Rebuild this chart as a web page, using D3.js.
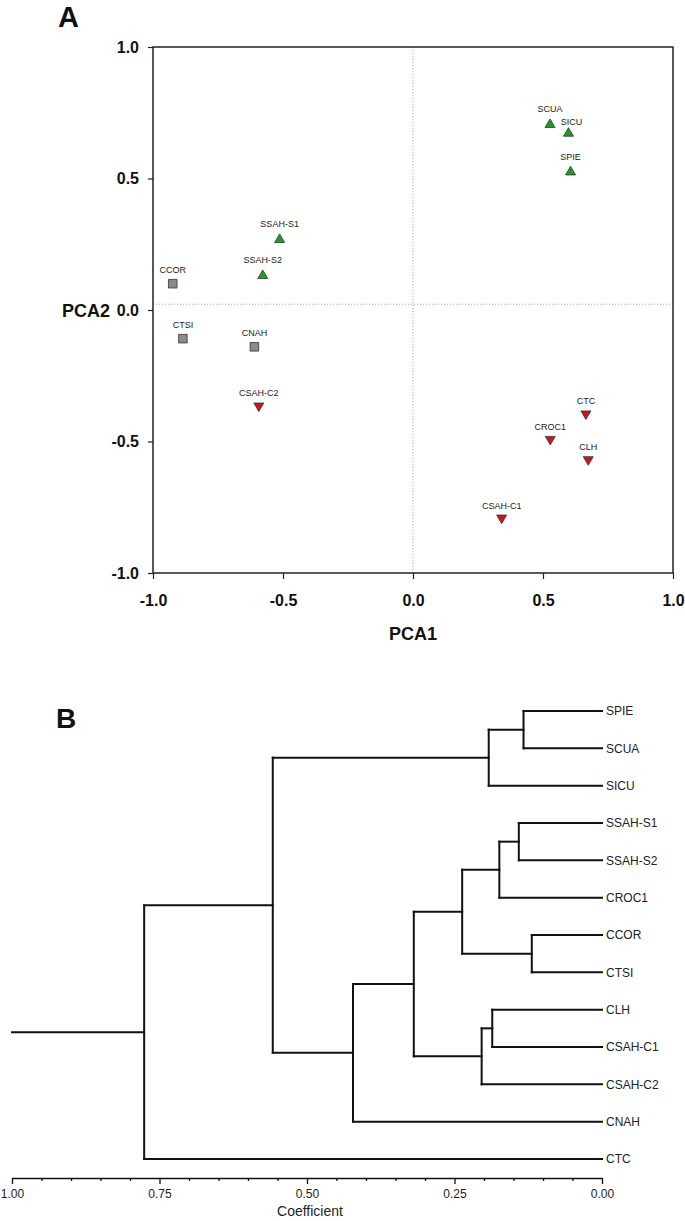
<!DOCTYPE html>
<html>
<head>
<meta charset="utf-8">
<script src="https://cdn.jsdelivr.net/npm/d3@7"></script>
<style>
  html, body { margin: 0; padding: 0; background: #fff; }
  svg { display: block; font-family: "Liberation Sans", Arial, sans-serif; }
</style>
</head>
<body>
<svg id="chart" width="685" height="1221"></svg>
<script>
// ---------------- Panel A data (PCA) ----------------
const pcaNames = ["SCUA", "SICU", "SPIE", "SSAH-S1", "SSAH-S2", "CCOR", "CTSI", "CNAH", "CSAH-C2", "CTC", "CROC1", "CLH", "CSAH-C1"];
const pca1 = [0.527, 0.598, 0.606, -0.513, -0.578, -0.924, -0.885, -0.610, -0.593, 0.665, 0.528, 0.674, 0.341];
const pca2 = [0.710, 0.677, 0.530, 0.273, 0.136, 0.100, -0.109, -0.140, -0.370, -0.400, -0.497, -0.574, -0.796];
const pcaGroup = ["S", "S", "S", "S", "S", "G", "G", "G", "R", "R", "R", "R", "R"];
const pcaTicks = [-1.0, -0.5, 0.0, 0.5, 1.0];
const pca2RefLine = 0.022;

// ---------------- Panel B data (dendrogram) ----------------
const leaves = ["SPIE", "SCUA", "SICU", "SSAH-S1", "SSAH-S2", "CROC1", "CCOR", "CTSI", "CLH", "CSAH-C1", "CSAH-C2", "CNAH", "CTC"];
const mergeNames = ["n1", "n2", "n3", "n4", "n5", "n6", "n7", "n8", "n9", "n10", "n11", "n12"];
const mergeLeft  = ["SPIE", "n1", "SSAH-S1", "n3", "CCOR", "n4", "CLH", "n7", "n6", "n9", "n2", "n11"];
const mergeRight = ["SCUA", "SICU", "SSAH-S2", "CROC1", "CTSI", "n5", "CSAH-C1", "CSAH-C2", "n8", "CNAH", "n10", "CTC"];
const mergeCoef  = [0.133, 0.192, 0.141, 0.174, 0.119, 0.237, 0.186, 0.204, 0.319, 0.422, 0.558, 0.776];
const coefMajorTicks = [1.00, 0.75, 0.50, 0.25, 0.00];
const coefMinorTicks = [0.95, 0.90, 0.85, 0.80, 0.70, 0.65, 0.60, 0.55, 0.45, 0.40, 0.35, 0.30, 0.20, 0.15, 0.10, 0.05];
const rootCoef = 1.0;

// ---------------- Drawing ----------------
const svg = d3.select("#chart");

// ===== Panel A =====
const x = d3.scaleLinear().domain([-1, 1]).range([153, 673]);
const y = d3.scaleLinear().domain([-1, 1]).range([573, 47]);

svg.append("text").attr("x", 58).attr("y", 27)
  .attr("font-size", 29).attr("font-weight", "bold").attr("fill", "#111").text("A");

// reference dotted lines
svg.append("line")
  .attr("x1", x(0)).attr("x2", x(0)).attr("y1", y(1)).attr("y2", y(-1))
  .attr("stroke", "#aaa").attr("stroke-width", 1).attr("stroke-dasharray", "1.2,1.8");
svg.append("line")
  .attr("x1", x(-1)).attr("x2", x(1)).attr("y1", y(pca2RefLine)).attr("y2", y(pca2RefLine))
  .attr("stroke", "#aaa").attr("stroke-width", 1).attr("stroke-dasharray", "1.2,1.8");

// frame
svg.append("rect")
  .attr("x", x(-1)).attr("y", y(1))
  .attr("width", x(1) - x(-1)).attr("height", y(-1) - y(1))
  .attr("fill", "none").attr("stroke", "#222").attr("stroke-width", 1.5);

const fmt1 = d => d.toFixed(1);
const axL = svg.append("g").attr("transform", `translate(${x(-1)},0)`)
  .call(d3.axisLeft(y).tickValues(pcaTicks).tickFormat(fmt1).tickSize(5).tickPadding(9));
const axB = svg.append("g").attr("transform", `translate(0,${y(-1)})`)
  .call(d3.axisBottom(x).tickValues(pcaTicks).tickFormat(fmt1).tickSize(6).tickPadding(16));
[axL, axB].forEach(g => {
  g.select(".domain").remove();
  g.selectAll(".tick line").attr("stroke", "#222").attr("stroke-width", 1.2);
  g.selectAll(".tick text").attr("font-size", 16).attr("font-weight", "bold")
    .attr("fill", "#111").attr("font-family", "'Liberation Sans', Arial, sans-serif");
});

svg.append("text").attr("x", 110).attr("y", 316.5).attr("text-anchor", "end")
  .attr("font-size", 18).attr("font-weight", "bold").attr("fill", "#111").text("PCA2");
svg.append("text").attr("x", x(0)).attr("y", 640).attr("text-anchor", "middle")
  .attr("font-size", 18).attr("font-weight", "bold").attr("fill", "#111").text("PCA1");

// markers
const style = {
  S: { fill: "#1f9a22", path: "M0,-4.3L5,4.3L-5,4.3Z" },
  R: { fill: "#cc1518", path: "M0,4.3L5,-4.3L-5,-4.3Z" },
  G: { fill: "#8a8a8a", path: "M-4.3,-4.3H4.3V4.3H-4.3Z" }
};
const labelOffset = { "SICU": [3, -10] };
const pts = pcaNames.map((n, i) => ({ name: n, a: pca1[i], b: pca2[i], g: pcaGroup[i] }));
const pg = svg.append("g").selectAll("g").data(pts).join("g")
  .attr("transform", d => `translate(${x(d.a)},${y(d.b)})`);
pg.append("path").attr("d", d => style[d.g].path)
  .attr("fill", d => style[d.g].fill).attr("stroke", "#333").attr("stroke-width", 0.8);
pg.append("text")
  .attr("x", d => (labelOffset[d.name] || [0, -14])[0])
  .attr("y", d => (labelOffset[d.name] || [0, -14])[1])
  .attr("dy", "0.35em").attr("text-anchor", "middle")
  .attr("font-size", 9).attr("fill", "#222").text(d => d.name);

// ===== Panel B =====
svg.append("text").attr("x", 56).attr("y", 728)
  .attr("font-size", 28).attr("font-weight", "bold").attr("fill", "#111").text("B");

const xB = d3.scaleLinear().domain([1, 0]).range([12, 602]);
const yB = d3.scalePoint().domain(leaves).range([711, 1159]);

const nodes = {};
leaves.forEach(l => nodes[l] = { y: yB(l), h: 0 });
mergeNames.forEach((n, i) => {
  const a = nodes[mergeLeft[i]], b = nodes[mergeRight[i]];
  nodes[n] = { y: (a.y + b.y) / 2, h: mergeCoef[i], a: mergeLeft[i], b: mergeRight[i] };
});

const segs = [];
mergeNames.forEach(n => {
  const nd = nodes[n];
  [nd.a, nd.b].forEach(c => {
    const ch = nodes[c];
    segs.push([xB(nd.h), ch.y, xB(ch.h), ch.y]);
  });
  segs.push([xB(nd.h), nodes[nd.a].y, xB(nd.h), nodes[nd.b].y]);
});
const root = nodes[mergeNames[mergeNames.length - 1]];
segs.push([xB(rootCoef), root.y, xB(root.h), root.y]);

svg.append("g").selectAll("line").data(segs).join("line")
  .attr("x1", d => d[0]).attr("y1", d => d[1]).attr("x2", d => d[2]).attr("y2", d => d[3])
  .attr("stroke", "#111").attr("stroke-width", 2).attr("stroke-linecap", "square");

svg.append("g").selectAll("text").data(leaves).join("text")
  .attr("x", xB(0) + 4).attr("y", d => yB(d)).attr("dy", "0.35em")
  .attr("font-size", 12).attr("fill", "#222").text(d => d);

const axisY = 1178;
const gMinor = svg.append("g").attr("transform", `translate(0,${axisY})`)
  .call(d3.axisBottom(xB).tickValues(coefMinorTicks).tickFormat("").tickSize(3).tickSizeOuter(0));
gMinor.select(".domain").remove();
const gMajor = svg.append("g").attr("transform", `translate(0,${axisY})`)
  .call(d3.axisBottom(xB).tickValues(coefMajorTicks).tickFormat(d3.format(".2f")).tickSize(6).tickSizeOuter(0).tickPadding(5));
gMajor.select(".domain").attr("stroke", "#111").attr("stroke-width", 1.5);
[gMinor, gMajor].forEach(g => g.selectAll(".tick line").attr("stroke", "#111").attr("stroke-width", 1.3));
gMajor.selectAll(".tick text").attr("font-size", 12).attr("fill", "#222")
  .attr("font-family", "'Liberation Sans', Arial, sans-serif");

svg.append("text").attr("x", 310).attr("y", 1216).attr("text-anchor", "middle")
  .attr("font-size", 14).attr("fill", "#222").text("Coefficient");
</script>
</body>
</html>
